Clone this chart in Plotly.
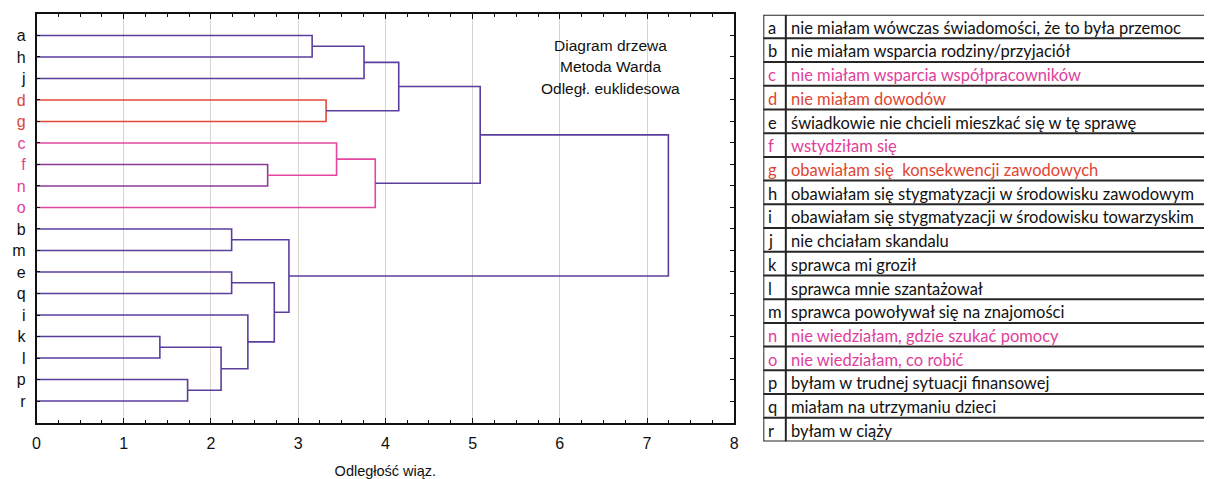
import plotly.graph_objects as go

# ---------------- data ----------------
leaves = ["a", "h", "j", "d", "g", "c", "f", "n", "o", "b", "m", "e", "q", "i", "k", "l", "p", "r"]
leaf_colors = {"d": "#e0452f", "g": "#e0452f", "c": "#e0409a", "f": "#e0409a", "n": "#e0409a", "o": "#e0409a"}

# merges (linkage): children are leaf letters or earlier cluster ids "C<k>"
merge_left = ["a", "C0", "d", "C1", "f", "c", "C5", "C3", "b", "e", "k", "p", "C10", "i", "C9", "C8", "C7"]
merge_right = ["h", "j", "g", "C2", "n", "C4", "o", "C6", "m", "q", "l", "r", "C11", "C12", "C13", "C14", "C15"]
merge_height = [3.16, 3.755, 3.32, 4.153, 2.65, 3.44, 3.884, 5.087, 2.237, 2.237, 1.414, 1.732, 2.116, 2.423, 2.726, 2.894, 7.245]
merge_color = ["purple", "purple", "red", "purple", "violet", "pink", "pink", "purple",
               "purple", "purple", "purple", "purple", "purple", "purple", "purple", "purple", "purple"]

x_ticks = [0, 1, 2, 3, 4, 5, 6, 7, 8]
x_title = "Odległość wiąz."
note_lines = ["Diagram drzewa", "Metoda Warda", "Odległ. euklidesowa"]

table_keys = list("abcdefghijklmnopqr")
table_texts = [
    "nie miałam wówczas świadomości, że to była przemoc",
    "nie miałam wsparcia rodziny/przyjaciół",
    "nie miałam wsparcia współpracowników",
    "nie miałam dowodów",
    "świadkowie nie chcieli mieszkać się w tę sprawę",
    "wstydziłam się",
    "obawiałam się  konsekwencji zawodowych",
    "obawiałam się stygmatyzacji w środowisku zawodowym",
    "obawiałam się stygmatyzacji w środowisku towarzyskim",
    "nie chciałam skandalu",
    "sprawca mi groził",
    "sprawca mnie szantażował",
    "sprawca powoływał się na znajomości",
    "nie wiedziałam, gdzie szukać pomocy",
    "nie wiedziałam, co robić",
    "byłam w trudnej sytuacji finansowej",
    "miałam na utrzymaniu dzieci",
    "byłam w ciąży",
]
table_colors = {"c": "#e0409a", "f": "#e0409a", "n": "#e0409a", "o": "#e0409a",
                "d": "#e0452f", "g": "#e0452f"}

# ---------------- styles ----------------
PALETTE = {"purple": "#5a3e9e", "red": "#e4483a", "pink": "#e2479f", "violet": "#8e3a98"}
W, H = 1209, 479
FONT = "Liberation Sans, Arial, sans-serif"
TFONT = "Lato, Carlito, Calibri, sans-serif"

# ---------------- dendrogram geometry ----------------
pos = {lf: i + 1 for i, lf in enumerate(leaves)}
hgt = {lf: 0.0 for lf in leaves}

fig = go.Figure()
for k, (l, r, h, c) in enumerate(zip(merge_left, merge_right, merge_height, merge_color)):
    yl, yr = pos[l], pos[r]
    fig.add_trace(go.Scatter(
        x=[hgt[l], h, h, hgt[r]], y=[yl, yl, yr, yr], mode="lines",
        line=dict(color=PALETTE[c], width=1.6), hoverinfo="skip", showlegend=False,
        xaxis="x", yaxis="y"))
    pos["C%d" % k] = (yl + yr) / 2
    hgt["C%d" % k] = h

# ---------------- layout ----------------
x0p, x1p = 32.8 / W, 735.7 / W
y_top, y_bot = 1 - 14 / H, 1 - 424.3 / H

ticktext = []
for lf in leaves:
    col = leaf_colors.get(lf, "#111111")
    ticktext.append('<span style="color:%s">%s</span>' % (col, lf))

fig.update_layout(
    width=W, height=H, margin=dict(l=0, r=0, t=0, b=0),
    paper_bgcolor="white", plot_bgcolor="white",
    font=dict(family=FONT, color="#111111"),
    xaxis=dict(domain=[x0p, x1p], range=[0, 8], tickvals=x_ticks, ticks="inside", ticklen=5,
               tickcolor="#111", tickwidth=1, showline=True, linecolor="#111", linewidth=1.5,
               mirror="allticks", showgrid=True, gridcolor="#d6d3d0", gridwidth=1,
               zeroline=False, tickfont=dict(size=16, family=FONT, color="#111"),
               ticklabelstandoff=6,
               minor=dict(dtick=0.25, ticks="inside", ticklen=3, tickcolor="#111", showgrid=False),
               title=dict(text=x_title, font=dict(size=14.5, family=FONT, color="#111"), standoff=16),
               anchor="y", fixedrange=True),
    yaxis=dict(domain=[y_bot, y_top], range=[19, 0], tickvals=list(range(1, len(leaves) + 1)),
               ticktext=ticktext, ticks="inside", ticklen=4, tickcolor="#111",
               showline=True, linecolor="#111", linewidth=1.5, mirror="allticks",
               showgrid=False, zeroline=False, tickfont=dict(size=16, family=FONT),
               ticklabelstandoff=6,
               anchor="x", fixedrange=True),
    xaxis2=dict(domain=[765 / W, 1], range=[0, 444], visible=False, anchor="y2", fixedrange=True),
    yaxis2=dict(domain=[1 - 443.3 / H, 1 - 14.7 / H], range=[len(table_keys), 0], visible=False,
                anchor="x2", fixedrange=True),
)

# dummy trace to activate table axes
fig.add_trace(go.Scatter(x=[0], y=[0], mode="markers", marker=dict(opacity=0),
                         xaxis="x2", yaxis="y2", hoverinfo="skip", showlegend=False))

# note
for i, t in enumerate(note_lines):
    fig.add_annotation(text=t, xref="x", yref="y", x=6.58, y=1.45 + i * 1.0,
                       showarrow=False, font=dict(size=15.5, family=FONT, color="#111"),
                       xanchor="center", yanchor="middle")

# ---------------- table ----------------
n = len(table_keys)
line_style = dict(color="#262626", width=2)
for i in range(n + 1):
    fig.add_shape(type="line", xref="x2", yref="y2", x0=0, x1=444, y0=i, y1=i, line=line_style)
fig.add_shape(type="line", xref="x2", yref="y2", x0=0, x1=0, y0=0, y1=n, line=line_style)
fig.add_shape(type="line", xref="x2", yref="y2", x0=22.7, x1=22.7, y0=0, y1=n, line=line_style)
for i, (k, t) in enumerate(zip(table_keys, table_texts)):
    col = table_colors.get(k, "#111111")
    fig.add_annotation(text=k, xref="x2", yref="y2", x=3, y=i + 0.55, showarrow=False,
                       xanchor="left", yanchor="middle", font=dict(size=16.5, family=TFONT, color=col))
    fig.add_annotation(text=t, xref="x2", yref="y2", x=26, y=i + 0.55, showarrow=False,
                       xanchor="left", yanchor="middle", font=dict(size=16.5, family=TFONT, color=col))

fig.write_html("out.html", config={"displayModeBar": False})
